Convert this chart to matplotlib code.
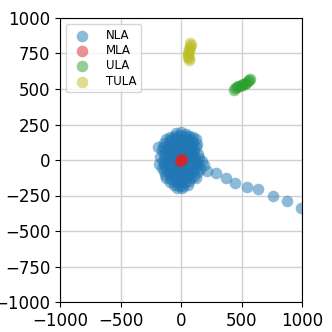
import numpy as np
import matplotlib
matplotlib.use("Agg")
import matplotlib.pyplot as plt

# NLA: dense cloud around the origin plus a trail towards the lower right
nla_x = [-40, 0, 40,
         -90, -50, -10, 30, 70, 100,
         -120, -80, -40, 0, 40, 80, 120,
         -140, -100, -60, -20, 20, 60, 100, 130,
         -190, -150, -110, -70, -30, 10, 50, 90, 120,
         -160, -120, -80, -40, 0, 40, 80, 110,
         -140, -100, -60, -20, 20, 60, 100, 140,
         -170, -130, -90, -50, -10, 30, 70, 110, 150,
         -150, -110, -70, -30, 10, 50, 90, 130, 170,
         -180, -140, -100, -60, -20, 20, 60, 100, 140, 190,
         -160, -120, -80, -40, 0, 40, 80, 120, 160,
         -140, -100, -60, -20, 20, 60, 100, 140,
         -130, -90, -50, -10, 30, 70, 110,
         -120, -80, -40, 0, 40, 80, 120,
         -90, -50, -10, 30, 70,
         -60, -20, 20, 60,
         -30, 10,
         212, 289, 372, 449, 548, 639, 763, 873, 995]
nla_y = [190, 195, 185,
         165, 172, 175, 170, 168, 160,
         150, 148, 152, 150, 150, 145, 150,
         120, 125, 118, 122, 120, 125, 118, 115,
         95, 92, 98, 95, 90, 95, 92, 95, 90,
         70, 68, 72, 70, 70, 68, 72, 70,
         45, 42, 48, 45, 40, 45, 42, 40,
         20, 22, 18, 20, 22, 20, 18, 20, 15,
         -5, -8, -2, -5, -5, -8, -2, -5, -10,
         -30, -28, -32, -30, -30, -28, -32, -30, -30, -35,
         -55, -58, -52, -55, -55, -58, -52, -55, -60,
         -80, -82, -78, -80, -80, -82, -78, -85,
         -105, -108, -102, -105, -105, -108, -110,
         -130, -132, -128, -130, -130, -128, -130,
         -155, -158, -152, -155, -150,
         -178, -182, -180, -175,
         -195, -195,
         -75, -94, -129, -160, -192, -206, -256, -291, -336]

mla_x = [0, 5, -5, 3, -3]
mla_y = [0, 5, -5, -3, 3]

ula_x = [438, 450, 462, 475, 488, 500, 512, 525, 538, 550, 560, 570]
ula_y = [493, 505, 512, 518, 522, 527, 532, 538, 545, 553, 562, 572]

tula_x = [78, 80, 76, 70, 64, 60, 58, 60, 64, 68]
tula_y = [825, 810, 795, 780, 765, 750, 738, 725, 715, 705]

fig = plt.figure(figsize=(3.32, 3.32), dpi=100)
ax = fig.add_axes([60 / 332, 30 / 332, 242 / 332, 284 / 332])

ax.scatter(nla_x, nla_y, s=70, color="tab:blue", alpha=0.5, linewidths=0, label="NLA")
ax.scatter(mla_x, mla_y, s=70, color="tab:red", alpha=0.5, linewidths=0, label="MLA")
ax.scatter(ula_x, ula_y, s=70, color="tab:green", alpha=0.5, linewidths=0, label="ULA")
ax.scatter(tula_x, tula_y, s=70, color="tab:olive", alpha=0.5, linewidths=0, label="TULA")

ax.set_xlim(-1000, 1000)
ax.set_ylim(-1000, 1000)
ax.set_xticks([-1000, -500, 0, 500, 1000])
ax.set_yticks([-1000, -750, -500, -250, 0, 250, 500, 750, 1000])
ax.tick_params(labelsize=12)
ax.grid(True, color="#d0d0d0", linewidth=1)
ax.set_axisbelow(True)
ax.legend(loc="upper left", fontsize=8.5, labelspacing=0.2, handletextpad=1.0)

fig.savefig("out.png", dpi=100)
